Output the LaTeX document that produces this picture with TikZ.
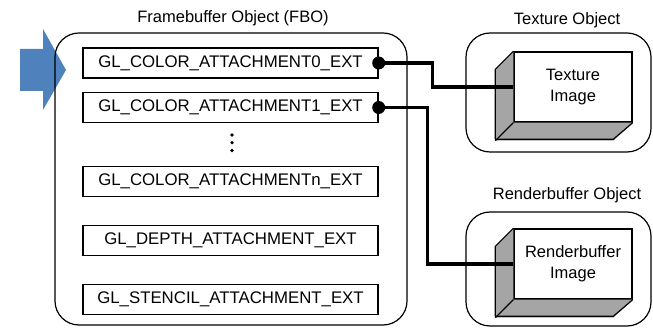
\documentclass[tikz,border=0pt]{standalone}
\usepackage{fontspec}
\setmainfont{Liberation Sans}
\definecolor{arrowblue}{HTML}{4F81BD}
\definecolor{facegray}{RGB}{165,165,165}
\begin{document}
\begin{tikzpicture}[x=1pt,y=-1pt,
  txt/.style={font=\fontsize{16.5}{19}\selectfont, inner sep=0pt, align=center},
  objbox/.style={draw, line width=1.2pt, rounded corners=24pt, inner sep=0pt},
  attbox/.style={draw, line width=1.4pt, minimum width=295pt, minimum height=30pt, inner sep=0pt, font=\fontsize{16.8}{19}\selectfont},
  imgbox/.style={draw, fill=white, line width=1.4pt, minimum width=118pt, minimum height=70pt, inner sep=0pt, align=center, font=\fontsize{16.5}{21}\selectfont},
  face/.style={fill=facegray},
  conn/.style={line width=3.4pt},
  dotend/.style={circle, fill=black, inner sep=0pt, minimum size=13pt}]
\useasboundingbox (0,0) rectangle (653,328);

% blue arrow
\fill[arrowblue] (20,49) -- (43,49) -- (43,29) -- (66,70) -- (43,110) -- (43,91) -- (20,91) -- cycle;

% titles
\node[txt] (fbotitle) at (233,18) {Framebuffer Object (FBO)};
\node[txt] (textitle) at (567,20) {Texture Object};
\node[txt] (rbtitle) at (567,195) {Renderbuffer Object};

% outer objects
\node[objbox, minimum width=352pt, minimum height=292pt] (fbo) at (231,179) {};
\node[objbox, minimum width=185pt, minimum height=119pt] (texobj) at (558.5,92.5) {};
\node[objbox, minimum width=185pt, minimum height=114pt] (rbobj) at (558.5,269) {};

% attachments
\node[attbox] (a0) at (230.5,63) {GL\_COLOR\_ATTACHMENT0\_EXT};
\node[attbox] (a1) at (230.5,107.5) {GL\_COLOR\_ATTACHMENT1\_EXT};
\node[attbox] (an) at (230.5,181.5) {GL\_COLOR\_ATTACHMENTn\_EXT};
\node[attbox] (ad) at (230.5,240.5) {GL\_DEPTH\_ATTACHMENT\_EXT};
\node[attbox] (as) at (230.5,299.5) {GL\_STENCIL\_ATTACHMENT\_EXT};

% vertical dots
\foreach \yy in {135,142.7,150.5} \fill (232,\yy) circle (1.8pt);

% images
\node[imgbox] (ti) at (573,87) {Texture\\Image};
\fill[face] (ti.north west) -- ++(-18,18) -- ++(0,70) -- (ti.south west) -- cycle;
\fill[face] (ti.south west) -- ++(-18,18) -- ++(118,0) -- (ti.south east) -- cycle;
\draw[line width=1.2pt, line join=round] (ti.north west) -- ++(-18,18) -- ++(0,70) -- ++(118,0) -- (ti.south east);
\draw[line width=1.2pt] (ti.south west) -- ++(-18,18);

\node[imgbox] (ri) at (573,264) {Renderbuffer\\Image};
\fill[face] (ri.north west) -- ++(-18,18) -- ++(0,70) -- (ri.south west) -- cycle;
\fill[face] (ri.south west) -- ++(-18,18) -- ++(118,0) -- (ri.south east) -- cycle;
\draw[line width=1.2pt, line join=round] (ri.north west) -- ++(-18,18) -- ++(0,70) -- ++(118,0) -- (ri.south east);
\draw[line width=1.2pt] (ri.south west) -- ++(-18,18);

% connectors
\node[dotend] (d0) at (a0.east) {};
\node[dotend] (d1) at (a1.east) {};
\draw[conn] (d0.center) -- ++(54,0) |- (ti.west);
\draw[conn] (d1.center) -- ++(49,0) |- (ri.west);
\end{tikzpicture}
\end{document}
